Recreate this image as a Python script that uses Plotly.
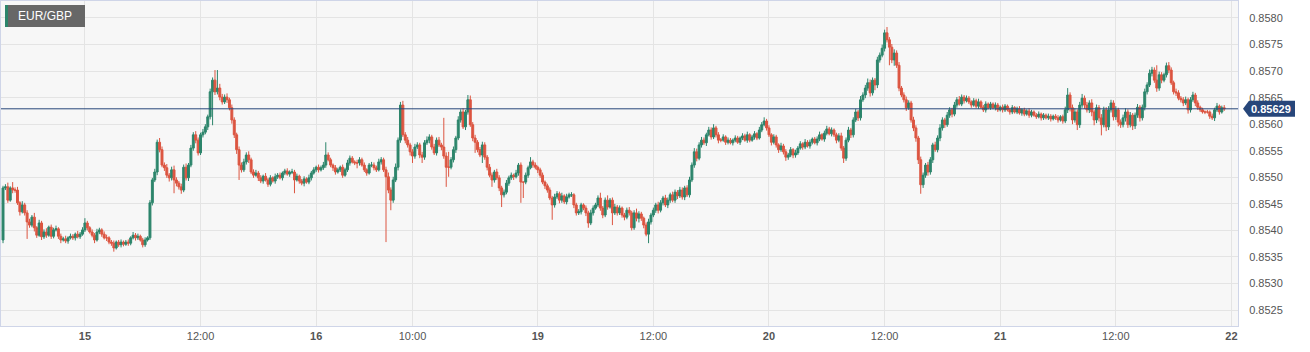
import plotly.graph_objects as go

# EUR/GBP 15-minute candles. Values are pips above 0.8500 (price = 0.85 + pips/10000).
first_open = 38.2
close_pips = [
    48.0, 48.2, 45.7, 48.0, 47.6, 47.6, 45.2, 43.5, 44.8, 43.3,
    41.6, 41.0, 42.5, 40.5, 39.1, 41.4, 38.8, 39.7, 39.1, 40.6,
    38.9, 40.1, 40.3, 38.9, 38.2, 38.4, 38.0, 38.6, 38.9, 38.6,
    39.3, 38.8, 39.3, 40.1, 41.4, 40.5, 39.7, 39.1, 38.2, 39.7,
    40.1, 39.3, 38.6, 38.6, 37.8, 37.6, 36.7, 37.8, 37.3, 37.8,
    37.4, 37.8, 37.6, 38.6, 39.1, 38.6, 38.9, 38.2, 37.3, 38.2,
    38.6, 45.2, 49.5, 51.0, 56.6, 55.2, 52.3, 51.8, 50.4, 49.9,
    51.4, 49.5, 48.9, 48.2, 47.6, 51.9, 49.9, 52.3, 55.5, 58.0,
    57.0, 54.6, 58.0, 58.5, 59.5, 61.4, 66.1, 68.3, 66.1, 66.8,
    65.1, 64.2, 65.1, 64.6, 63.1, 60.8, 58.0, 55.2, 52.3, 51.4,
    52.9, 54.2, 53.3, 51.0, 50.4, 50.8, 49.9, 49.3, 50.2, 49.5,
    48.7, 49.9, 49.3, 50.1, 50.4, 49.9, 50.8, 51.2, 50.6, 51.0,
    51.0, 49.5, 50.2, 49.3, 48.9, 49.7, 49.1, 49.9, 50.8, 51.4,
    51.9, 51.4, 51.8, 52.3, 54.2, 53.3, 52.3, 51.8, 51.0, 51.4,
    51.9, 50.4, 51.4, 52.7, 53.6, 52.9, 52.7, 52.7, 53.3, 52.3,
    51.4, 50.8, 52.3, 52.3, 51.8, 51.4, 52.9, 53.3, 51.4, 50.1,
    47.6, 45.7, 49.5, 51.9, 57.0, 63.6, 58.0, 57.0, 56.1, 54.8,
    54.0, 55.7, 56.1, 54.2, 53.8, 56.5, 57.0, 57.6, 55.7, 54.6,
    57.0, 56.1, 55.7, 54.0, 51.9, 51.9, 53.3, 55.2, 57.4, 60.8,
    62.3, 59.5, 62.3, 64.6, 59.9, 57.4, 56.6, 55.2, 54.2, 56.1,
    53.8, 51.9, 50.4, 49.5, 51.0, 49.9, 48.0, 46.7, 47.2, 48.9,
    49.9, 50.4, 50.1, 50.8, 52.3, 49.1, 49.1, 50.4, 51.8, 52.9,
    52.3, 51.9, 51.4, 50.4, 49.1, 48.4, 47.6, 46.1, 44.8, 46.3,
    46.9, 45.7, 46.5, 45.4, 46.3, 46.7, 46.7, 44.8, 43.3, 43.5,
    44.8, 44.2, 43.3, 41.4, 43.3, 44.2, 44.8, 46.1, 44.2, 42.9,
    45.7, 44.4, 45.7, 43.3, 44.4, 43.3, 44.2, 42.9, 42.5, 43.8,
    43.3, 40.5, 43.3, 42.3, 43.1, 42.3, 41.0, 39.3, 41.6, 42.9,
    43.8, 44.8, 43.8, 45.2, 46.1, 44.8, 45.7, 46.7, 45.7, 47.2,
    46.5, 47.6, 46.3, 48.0, 46.7, 49.5, 52.3, 54.8, 53.6, 56.1,
    57.0, 56.5, 58.0, 58.9, 57.6, 59.3, 58.0, 57.0, 57.0, 57.6,
    56.6, 57.0, 56.5, 57.0, 57.4, 56.6, 57.4, 57.8, 57.0, 58.0,
    57.0, 57.6, 58.2, 57.4, 58.9, 59.9, 60.6, 59.3, 58.0, 56.6,
    57.6, 56.1, 55.2, 55.9, 54.8, 53.8, 54.2, 55.2, 54.2, 54.6,
    55.5, 56.3, 55.7, 56.6, 55.9, 56.6, 57.2, 56.5, 57.2, 58.0,
    57.2, 58.3, 59.1, 58.2, 58.9, 58.0, 57.0, 57.8, 55.5, 53.6,
    57.0, 58.9, 58.0, 60.8, 62.3, 61.2, 64.6, 65.5, 66.8, 67.8,
    65.9, 68.3, 67.4, 72.1, 73.0, 74.3, 77.2, 75.9, 74.5, 72.1,
    73.4, 71.1, 66.8, 65.5, 64.6, 63.1, 64.0, 60.8, 59.3, 57.4,
    53.3, 48.6, 50.4, 52.3, 51.0, 53.3, 56.1, 55.2, 57.4, 59.3,
    60.8, 59.9, 61.7, 62.7, 61.9, 63.6, 64.6, 63.8, 65.1, 64.4,
    64.9, 64.2, 63.6, 64.4, 63.4, 64.2, 63.2, 62.7, 63.8, 63.1,
    63.8, 63.1, 63.6, 62.7, 63.2, 62.7, 63.4, 62.7, 62.3, 63.1,
    62.3, 62.9, 62.1, 62.7, 61.9, 62.5, 61.7, 62.3, 61.7, 61.4,
    61.9, 61.2, 61.7, 61.2, 61.5, 61.0, 61.5, 61.2, 60.8, 61.4,
    60.6, 62.7, 65.5, 63.1, 60.8, 62.3, 59.9, 63.6, 64.9, 63.6,
    62.7, 64.0, 62.3, 60.8, 63.1, 61.2, 59.9, 62.7, 59.5, 62.7,
    64.0, 61.4, 62.7, 60.4, 59.9, 61.2, 62.3, 59.9, 61.7, 59.7,
    61.7, 63.2, 61.2, 63.2, 66.1, 67.4, 69.6, 70.2, 68.3, 66.8,
    69.3, 68.3, 69.3, 71.0, 70.2, 67.8, 66.1, 65.9, 64.9, 64.6,
    64.0, 64.6, 62.7, 64.6, 65.5, 64.0, 63.2, 62.7, 62.3, 62.3,
    62.3, 61.5, 61.2, 62.7, 63.4, 62.3, 63.1, 62.9,
]
# upper wick length above the body (pips)
upper_wick = [
    0.4, 0.5, 0.8, 0.3, 1.1, 0.5, 0.6, 0.3, 0.7, 0.4,
    0.5, 0.6, 0.4, 0.8, 0.3, 0.6, 0.4, 0.5, 0.7, 0.3,
    0.5, 0.4, 0.6, 0.3, 0.5, 0.4, 0.6, 0.3, 0.5, 0.4,
    0.3, 0.6, 0.4, 0.5, 0.9, 0.4, 0.3, 0.5, 0.4, 0.6,
    0.4, 0.3, 0.5, 0.6, 0.3, 0.4, 0.5, 0.3, 0.4, 0.5,
    0.3, 0.4, 0.5, 0.3, 0.6, 0.4, 0.5, 0.3, 0.4, 0.5,
    0.3, 0.5, 0.4, 0.6, 0.5, 0.8, 0.6, 0.5, 0.7, 0.4,
    0.6, 0.8, 0.5, 0.4, 0.6, 0.5, 0.7, 0.4, 0.6, 0.5,
    0.7, 0.5, 0.4, 0.6, 0.5, 0.4, 0.6, 0.5, 1.9, 3.4,
    0.8, 0.6, 0.5, 0.7, 0.4, 0.6, 0.5, 0.4, 0.6, 0.5,
    0.6, 0.5, 0.7, 0.4, 0.5, 0.6, 0.4, 0.5, 0.3, 0.6,
    0.4, 0.5, 0.3, 0.6, 0.4, 0.5, 0.3, 0.4, 0.5, 0.3,
    0.6, 0.4, 0.5, 0.3, 0.4, 0.5, 0.3, 0.6, 0.4, 0.5,
    0.3, 0.5, 0.4, 0.6, 2.4, 0.5, 0.4, 0.3, 0.5, 0.4,
    0.3, 0.5, 0.4, 0.6, 0.5, 0.4, 0.3, 0.6, 0.5, 0.4,
    0.5, 0.3, 0.4, 0.6, 0.5, 0.4, 0.6, 0.5, 0.4, 0.6,
    0.8, 0.5, 0.6, 0.7, 0.5, 0.6, 0.8, 0.5, 0.6, 0.4,
    0.5, 0.6, 0.5, 0.4, 0.6, 0.5, 0.7, 0.5, 0.4, 0.6,
    0.5, 0.6, 0.4, 5.5, 0.7, 2.9, 0.5, 0.6, 0.4, 0.7,
    0.5, 0.7, 0.4, 0.9, 0.8, 0.5, 0.6, 0.4, 0.5, 0.6,
    0.5, 0.4, 0.6, 0.5, 0.4, 0.6, 0.5, 0.4, 0.5, 0.6,
    0.4, 0.5, 0.3, 0.6, 0.4, 0.5, 0.0, 0.5, 0.4, 0.9,
    0.4, 0.5, 0.3, 0.4, 0.5, 0.3, 0.4, 0.5, 0.4, 0.6,
    0.5, 0.4, 0.6, 0.3, 0.6, 0.4, 0.5, 0.3, 0.4, 0.5,
    0.4, 0.3, 0.5, 0.4, 0.6, 0.5, 0.4, 0.5, 1.0, 0.4,
    0.5, 0.9, 0.4, 0.5, 0.6, 0.4, 0.5, 0.3, 0.4, 0.5,
    0.6, 0.4, 0.5, 0.8, 0.5, 0.4, 0.3, 0.5, 0.6, 0.4,
    0.5, 0.4, 0.6, 0.5, 0.4, 0.6, 0.5, 0.4, 0.6, 0.5,
    0.4, 0.6, 0.5, 0.4, 0.5, 0.6, 0.5, 0.7, 0.6, 0.5,
    0.6, 0.5, 0.4, 0.6, 0.5, 0.7, 0.4, 0.5, 0.4, 0.5,
    0.3, 0.5, 0.4, 0.3, 0.5, 0.4, 0.3, 0.5, 0.4, 0.6,
    0.3, 0.4, 0.5, 0.3, 0.6, 0.5, 0.7, 0.4, 0.5, 0.3,
    0.5, 0.4, 0.3, 0.6, 0.4, 0.5, 0.4, 0.5, 0.3, 0.6,
    0.4, 0.5, 0.3, 0.6, 0.4, 0.5, 0.3, 0.4, 0.5, 0.6,
    0.3, 0.5, 0.6, 0.4, 0.5, 0.3, 0.4, 0.5, 0.6, 0.4,
    0.5, 0.6, 0.4, 0.5, 0.6, 0.4, 0.7, 0.5, 0.6, 0.8,
    0.6, 0.5, 0.4, 0.6, 0.5, 0.7, 0.6, 1.1, 0.5, 0.6,
    0.7, 0.5, 0.6, 0.4, 0.5, 0.6, 0.5, 0.4, 0.6, 0.5,
    0.4, 0.6, 0.5, 0.4, 0.6, 0.5, 0.4, 0.6, 0.5, 0.7,
    0.5, 0.4, 0.6, 0.5, 0.4, 0.6, 0.5, 0.7, 0.5, 0.4,
    0.5, 0.4, 0.3, 0.5, 0.4, 0.6, 0.3, 0.4, 0.5, 0.3,
    0.4, 0.3, 0.5, 0.4, 0.3, 0.5, 0.4, 0.3, 0.4, 0.5,
    0.3, 0.4, 0.5, 0.3, 0.4, 0.3, 0.5, 0.4, 0.3, 0.4,
    0.5, 0.3, 0.4, 0.3, 0.5, 0.4, 0.3, 0.4, 0.5, 0.3,
    0.4, 0.6, 1.3, 0.5, 0.6, 0.7, 0.5, 0.6, 0.8, 0.5,
    0.6, 0.5, 0.7, 0.4, 0.6, 0.5, 0.7, 0.6, 0.5, 0.7,
    0.6, 0.5, 0.7, 0.4, 0.5, 0.6, 0.7, 0.5, 0.6, 0.4,
    0.5, 0.6, 0.4, 0.5, 0.6, 0.5, 0.7, 0.6, 0.5, 2.8,
    0.6, 0.5, 0.4, 0.6, 0.7, 0.5, 0.4, 0.6, 0.5, 0.4,
    0.5, 0.6, 0.4, 0.5, 0.6, 0.4, 0.5, 0.3, 0.4, 0.3,
    0.4, 0.3, 0.5, 0.4, 0.6, 0.3, 0.4, 0.5,
]
# lower wick length below the body (pips)
lower_wick = [
    0.6, 0.4, 0.5, 0.3, 0.6, 0.5, 0.4, 0.7, 0.3, 0.5,
    3.2, 0.5, 0.4, 0.7, 0.5, 0.3, 0.6, 0.4, 0.5, 0.3,
    0.5, 0.4, 0.3, 0.5, 0.6, 0.3, 0.4, 0.5, 0.3, 0.4,
    0.5, 0.3, 0.4, 0.3, 0.4, 0.5, 0.3, 0.4, 0.6, 0.3,
    0.4, 0.5, 0.3, 0.6, 0.4, 0.5, 0.7, 0.3, 0.4, 0.5,
    0.4, 0.3, 0.5, 0.4, 0.3, 0.5, 0.4, 0.3, 0.5, 0.4,
    0.3, 0.4, 0.5, 0.4, 0.6, 0.5, 0.4, 0.6, 0.5, 0.7,
    0.5, 2.5, 0.6, 0.5, 0.7, 0.4, 0.5, 0.6, 0.4, 0.5,
    0.6, 0.5, 0.4, 0.5, 0.4, 0.6, 0.5, 6.3, 0.6, 0.5,
    0.6, 0.5, 0.4, 0.6, 0.5, 0.7, 0.6, 0.8, 2.8, 0.5,
    0.4, 0.5, 0.6, 0.4, 0.5, 0.3, 0.6, 0.4, 0.5, 0.3,
    0.5, 0.4, 0.3, 0.5, 0.4, 0.3, 0.5, 0.4, 0.3, 0.5,
    0.4, 2.5, 0.3, 0.5, 0.4, 0.6, 0.3, 0.4, 0.5, 0.3,
    0.4, 0.5, 0.3, 0.4, 0.5, 0.3, 0.4, 0.6, 0.5, 0.3,
    0.4, 0.5, 0.3, 0.4, 0.5, 0.3, 0.4, 1.0, 0.5, 0.3,
    0.4, 0.5, 0.3, 0.4, 0.5, 0.4, 0.3, 0.5, 0.4, 12.3,
    0.6, 1.9, 0.5, 0.4, 0.6, 0.5, 0.4, 0.6, 0.5, 0.7,
    1.3, 0.5, 0.4, 0.6, 1.1, 0.5, 0.4, 0.6, 0.5, 0.4,
    0.5, 0.4, 0.6, 0.5, 3.7, 1.8, 0.4, 0.5, 0.6, 0.4,
    0.5, 0.4, 0.6, 0.5, 0.4, 0.6, 2.0, 0.5, 0.4, 1.5,
    0.5, 0.6, 0.4, 1.3, 0.5, 0.4, 0.6, 2.3, 0.5, 0.4,
    0.5, 0.4, 0.6, 0.3, 0.5, 3.9, 3.0, 0.4, 0.5, 0.3,
    0.5, 0.4, 0.6, 0.5, 0.4, 0.6, 0.5, 0.4, 2.8, 0.5,
    0.4, 0.6, 0.5, 0.4, 0.5, 0.3, 0.4, 0.6, 0.5, 0.4,
    0.5, 0.4, 0.6, 0.9, 0.4, 0.5, 0.3, 0.4, 0.5, 0.6,
    0.4, 0.5, 0.3, 2.3, 0.4, 0.5, 0.4, 0.5, 0.6, 0.4,
    0.5, 0.5, 0.4, 0.6, 0.8, 0.5, 0.6, 0.4, 1.7, 0.5,
    0.4, 0.5, 0.6, 0.4, 0.5, 0.4, 0.6, 0.5, 0.4, 0.5,
    0.6, 0.4, 0.5, 0.6, 0.4, 0.5, 0.4, 0.5, 0.6, 0.4,
    0.5, 0.4, 0.6, 0.3, 0.5, 0.4, 0.5, 0.6, 0.4, 0.3,
    0.5, 0.4, 0.3, 0.5, 0.4, 0.3, 0.5, 0.4, 0.3, 0.5,
    0.4, 0.3, 0.5, 0.4, 0.3, 0.4, 0.3, 0.5, 0.4, 0.6,
    0.4, 0.5, 0.6, 0.4, 0.5, 0.7, 0.5, 0.4, 0.6, 0.5,
    0.4, 0.3, 0.5, 0.4, 0.3, 0.5, 0.4, 0.3, 0.5, 0.4,
    0.3, 0.5, 0.4, 0.3, 0.5, 0.4, 0.6, 0.4, 0.5, 0.9,
    0.5, 0.4, 0.6, 0.5, 0.4, 0.6, 0.5, 0.4, 0.6, 0.5,
    0.7, 0.5, 1.0, 0.6, 0.5, 0.4, 0.6, 0.5, 3.4, 0.6,
    1.1, 0.5, 0.6, 0.4, 0.5, 0.6, 0.4, 0.5, 0.6, 0.7,
    0.8, 1.7, 0.6, 0.5, 0.7, 0.5, 0.6, 0.4, 0.5, 0.6,
    0.5, 0.6, 0.4, 0.5, 0.6, 0.4, 0.5, 0.3, 0.4, 0.5,
    0.3, 0.4, 0.5, 0.3, 0.4, 0.5, 0.3, 0.4, 0.5, 0.3,
    0.4, 0.3, 0.5, 0.4, 0.3, 0.5, 0.4, 0.3, 0.5, 0.4,
    0.3, 0.4, 0.3, 0.5, 0.4, 0.3, 0.5, 0.4, 0.3, 0.4,
    0.3, 0.5, 0.4, 0.3, 0.4, 0.5, 0.3, 0.4, 0.5, 0.3,
    0.5, 0.4, 0.6, 0.7, 0.8, 0.5, 1.0, 0.6, 0.5, 0.7,
    0.5, 0.6, 0.8, 1.0, 0.6, 0.7, 2.0, 0.5, 0.8, 0.6,
    0.5, 0.7, 0.6, 0.8, 0.6, 0.5, 0.7, 0.6, 0.5, 0.8,
    0.6, 0.5, 0.7, 0.5, 0.6, 0.5, 0.4, 0.6, 0.5, 0.7,
    0.5, 0.6, 0.4, 0.5, 0.6, 0.4, 0.5, 0.6, 0.4, 0.5,
    0.6, 0.4, 0.7, 0.5, 0.4, 0.6, 0.5, 0.4, 0.3, 0.4,
    0.3, 0.5, 0.4, 0.6, 0.4, 0.5, 0.3, 0.4,
]

# time axis: hours since day 15 00:00 (weekend removed), 15-minute candles
start_hour = -8.5
step_hours = 0.25
tick_hours = [0, 12, 24, 34, 47, 59, 71, 83, 95, 107, 119]
tick_text = ["<b>15</b>", "12:00", "<b>16</b>", "10:00", "<b>19</b>", "12:00",
             "<b>20</b>", "12:00", "<b>21</b>", "12:00", "<b>22</b>"]
last_price = 0.85629
symbol = "EUR/GBP"

assert len(close_pips) == len(upper_wick) == len(lower_wick), (
    len(close_pips), len(upper_wick), len(lower_wick))

n = len(close_pips)
x = [start_hour + step_hours * i for i in range(n)]
open_pips = [first_open] + close_pips[:-1]
high_pips = [max(o, c) + u for o, c, u in zip(open_pips, close_pips, upper_wick)]
low_pips = [min(o, c) - d for o, c, d in zip(open_pips, close_pips, lower_wick)]

def to_price(v):
    return [round(0.85 + p / 10000.0, 6) for p in v]

GREEN = "#2c856b"
RED = "#dc5540"
NAVY = "#27467a"
FONT = "Liberation Sans, Arial, sans-serif"

fig = go.Figure()
fig.add_trace(go.Candlestick(
    x=x,
    open=to_price(open_pips), high=to_price(high_pips),
    low=to_price(low_pips), close=to_price(close_pips),
    increasing=dict(line=dict(color=GREEN, width=1), fillcolor=GREEN),
    decreasing=dict(line=dict(color=RED, width=1), fillcolor=RED),
    whiskerwidth=0, showlegend=False, hoverinfo="skip",
))

fig.update_layout(
    width=1310, height=352,
    margin=dict(l=1, r=72, t=1, b=26),
    paper_bgcolor="#ffffff", plot_bgcolor="#f7f7f7",
    font=dict(family=FONT, size=11, color="#555555"),
    showlegend=False,
    boxgap=0.2, boxgroupgap=0,
    xaxis=dict(
        range=[-8.71, 119.68], tickmode="array", tickvals=tick_hours, ticktext=tick_text,
        showgrid=True, gridcolor="#e4e4e4", gridwidth=1, zeroline=False,
        showline=True, linecolor="#cfd5e8", linewidth=1, mirror=True,
        ticks="", tickfont=dict(size=11, color="#555555", family=FONT),
        rangeslider=dict(visible=False), fixedrange=True,
    ),
    yaxis=dict(
        range=[0.85220, 0.85832], side="right", tick0=0.8525, dtick=0.0005,
        tickformat=".4f", showgrid=True, gridcolor="#e4e4e4", gridwidth=1,
        zeroline=False, showline=True, linecolor="#cfd5e8", linewidth=1, mirror=True,
        ticks="", ticklabelstandoff=8,
        tickfont=dict(size=11, color="#555555", family=FONT),
    ),
)

# current price line and its label
fig.add_shape(type="line", xref="paper", yref="y", x0=0, x1=1, y0=last_price, y1=last_price,
              line=dict(color=NAVY, width=1), layer="above")
fig.add_shape(type="path", xref="paper", yref="y", xsizemode="pixel", ysizemode="pixel",
              xanchor=1, yanchor=last_price,
              path="M 5 0 L 11 -8 L 57 -8 L 57 8 L 11 8 Z",
              fillcolor=NAVY, line=dict(width=0), layer="above")
fig.add_annotation(xref="paper", yref="y", x=1, y=last_price, xanchor="left", yanchor="middle",
                   xshift=11, yshift=0, showarrow=False,
                   text="<b>0.85629</b>", font=dict(color="#ffffff", size=11, family=FONT))

# symbol badge top-left
fig.add_shape(type="rect", xref="paper", yref="paper", xsizemode="pixel", ysizemode="pixel",
              xanchor=0, yanchor=1, x0=4, x1=84, y0=-4, y1=-26,
              fillcolor="#676767", line=dict(width=0), layer="above")
fig.add_shape(type="rect", xref="paper", yref="paper", xsizemode="pixel", ysizemode="pixel",
              xanchor=0, yanchor=1, x0=4, x1=7, y0=-4, y1=-26,
              fillcolor=GREEN, line=dict(width=0), layer="above")
fig.add_annotation(xref="paper", yref="paper", x=0, y=1, xanchor="left", yanchor="middle",
                   xshift=15, yshift=-15, showarrow=False, text=symbol,
                   font=dict(color="#ffffff", size=12, family=FONT))

fig.write_html("out.html")
